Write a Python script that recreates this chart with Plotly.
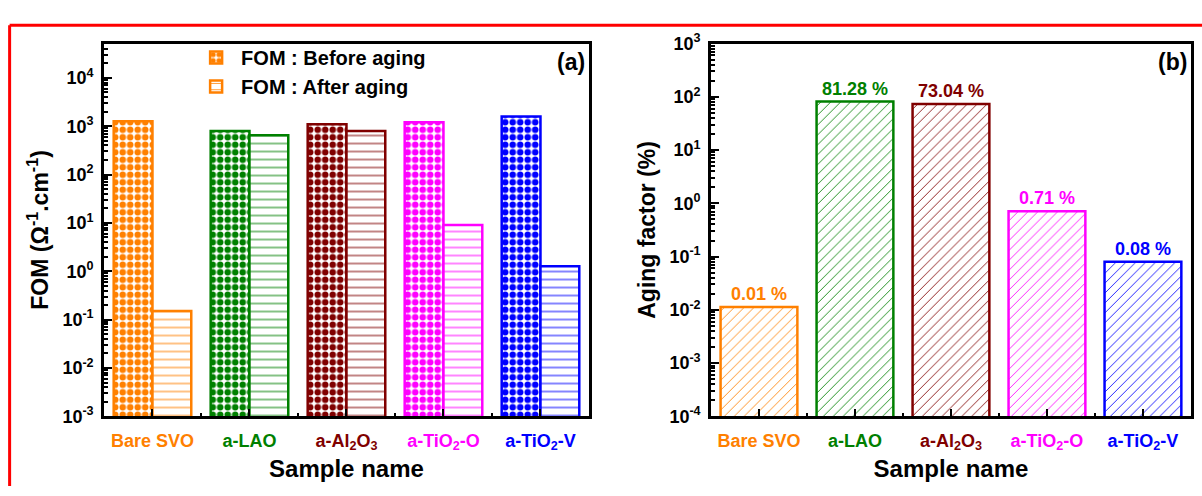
import plotly.graph_objects as go

# Samples and colours
categories = ["Bare SVO", "a-LAO", "a-Al<sub>2</sub>O<sub>3</sub>",
              "a-TiO<sub>2</sub>-O", "a-TiO<sub>2</sub>-V"]
colors = ["#FF8000", "#008000", "#800000", "#FF00FF", "#0000FF"]

# Figure of merit (Ohm^-1 cm^-1)
fom_before = [1260, 800, 1100, 1200, 1580]
fom_after = [0.15, 650, 800, 9.1, 1.27]

# Aging factor (%)
aging_factor = [0.0113, 81.28, 73.04, 0.71, 0.08]

# Log-axis tick labels
fom_exponents = [-3, -2, -1, 0, 1, 2, 3, 4]
aging_exponents = [-4, -3, -2, -1, 0, 1, 2, 3]

FONT = "Liberation Sans"
x_pos = list(range(len(categories)))
tick_text = [f"<b><span style='color:{c}'>{n}</span></b>" for n, c in zip(categories, colors)]

fig = go.Figure()

# Panel (a): FOM before/after aging
fig.add_trace(go.Bar(
    x=x_pos, y=fom_before, name="<b>FOM : Before aging</b>",
    marker=dict(color="white", line=dict(color=colors, width=2.5),
                pattern=dict(shape=".", fgcolor=colors, bgcolor="white",
                             size=7.5, solidity=0.6, fillmode="replace")),
    xaxis="x", yaxis="y", offsetgroup="before",
))
fig.add_trace(go.Bar(
    x=x_pos, y=fom_after, name="<b>FOM : After aging</b>",
    marker=dict(color="white", line=dict(color=colors, width=2.5),
                pattern=dict(shape="-", fgcolor=colors, bgcolor="white",
                             size=8, solidity=0.12, fillmode="replace")),
    xaxis="x", yaxis="y", offsetgroup="after",
))

# Panel (b): aging factor with value labels
fig.add_trace(go.Bar(
    x=x_pos, y=aging_factor, showlegend=False,
    text=[f"<b>{v:.2f} %</b>" for v in aging_factor],
    textposition="outside", cliponaxis=False,
    textfont=dict(family=FONT, size=18, color=colors),
    marker=dict(color="white", line=dict(color=colors, width=2.5),
                pattern=dict(shape="/", fgcolor=colors, bgcolor="white",
                             size=7, solidity=0.12, fillmode="replace")),
    width=0.8, xaxis="x2", yaxis="y2",
))

axis_common = dict(
    showline=True, linewidth=2.5, linecolor="black", mirror=True,
    ticks="inside", tickcolor="black", tickwidth=2, ticklen=8,
    showgrid=False, zeroline=False,
    tickfont=dict(family=FONT, size=18, color="black"),
)

xcommon = dict(axis_common, range=[-0.5, len(categories) - 0.5],
               tickvals=x_pos, ticktext=tick_text, ticklabelstandoff=6,
               minor=dict(ticks="inside", ticklen=4, tickwidth=2, tickcolor="black",
                          dtick=1, tick0=0.5),
               title=dict(text="<b>Sample name</b>", font=dict(family=FONT, size=24, color="black"),
                          standoff=8))

ycommon = dict(axis_common, type="log", domain=[0.147, 0.9335], ticklabelstandoff=4,
               minor=dict(ticks="inside", ticklen=4, tickwidth=1.5, tickcolor="black", dtick="D1"))

fig.update_layout(
    width=1202, height=496,
    margin=dict(l=0, r=0, t=0, b=0),
    paper_bgcolor="white", plot_bgcolor="white",
    font=dict(family=FONT, color="black"),
    barmode="group", bargap=0.2, bargroupgap=0,
    xaxis=dict(xcommon, domain=[0.0865, 0.49], anchor="y"),
    xaxis2=dict(xcommon, domain=[0.5915, 0.9908], anchor="y2"),
    yaxis=dict(ycommon, range=[-3, 4.71], anchor="x",
               tickvals=[10.0 ** e for e in fom_exponents],
               ticktext=[f"<b>10<sup>{e}</sup></b>" for e in fom_exponents],
               title=dict(text="<b>FOM (Ω<sup>-1</sup>.cm<sup>-1</sup>)</b>",
                          font=dict(family=FONT, size=23, color="black"), standoff=8)),
    yaxis2=dict(ycommon, range=[-4, 3], anchor="x2",
                tickvals=[10.0 ** e for e in aging_exponents],
                ticktext=[f"<b>10<sup>{e}</sup></b>" for e in aging_exponents],
                title=dict(text="<b>Aging factor (%)</b>",
                           font=dict(family=FONT, size=23, color="black"), standoff=8)),
    legend=dict(x=0.159, y=0.945, xanchor="left", yanchor="top",
                bgcolor="rgba(0,0,0,0)", font=dict(family=FONT, size=20, color="black"),
                itemwidth=40, tracegroupgap=0),
    annotations=[
        dict(text="<b>(a)</b>", xref="x domain", yref="y domain", x=0.995, y=0.99,
             xanchor="right", yanchor="top", showarrow=False,
             font=dict(family=FONT, size=23, color="black")),
        dict(text="<b>(b)</b>", xref="x2 domain", yref="y2 domain", x=0.995, y=0.99,
             xanchor="right", yanchor="top", showarrow=False,
             font=dict(family=FONT, size=23, color="black")),
    ],
    shapes=[
        dict(type="line", xref="paper", yref="paper", x0=0.008, x1=1.0, y0=0.972, y1=0.972,
             line=dict(color="red", width=3)),
        dict(type="line", xref="paper", yref="paper", x0=0.008, x1=0.008, y0=0.0, y1=0.972,
             line=dict(color="red", width=3)),
    ],
)

fig.write_html("out.html")
